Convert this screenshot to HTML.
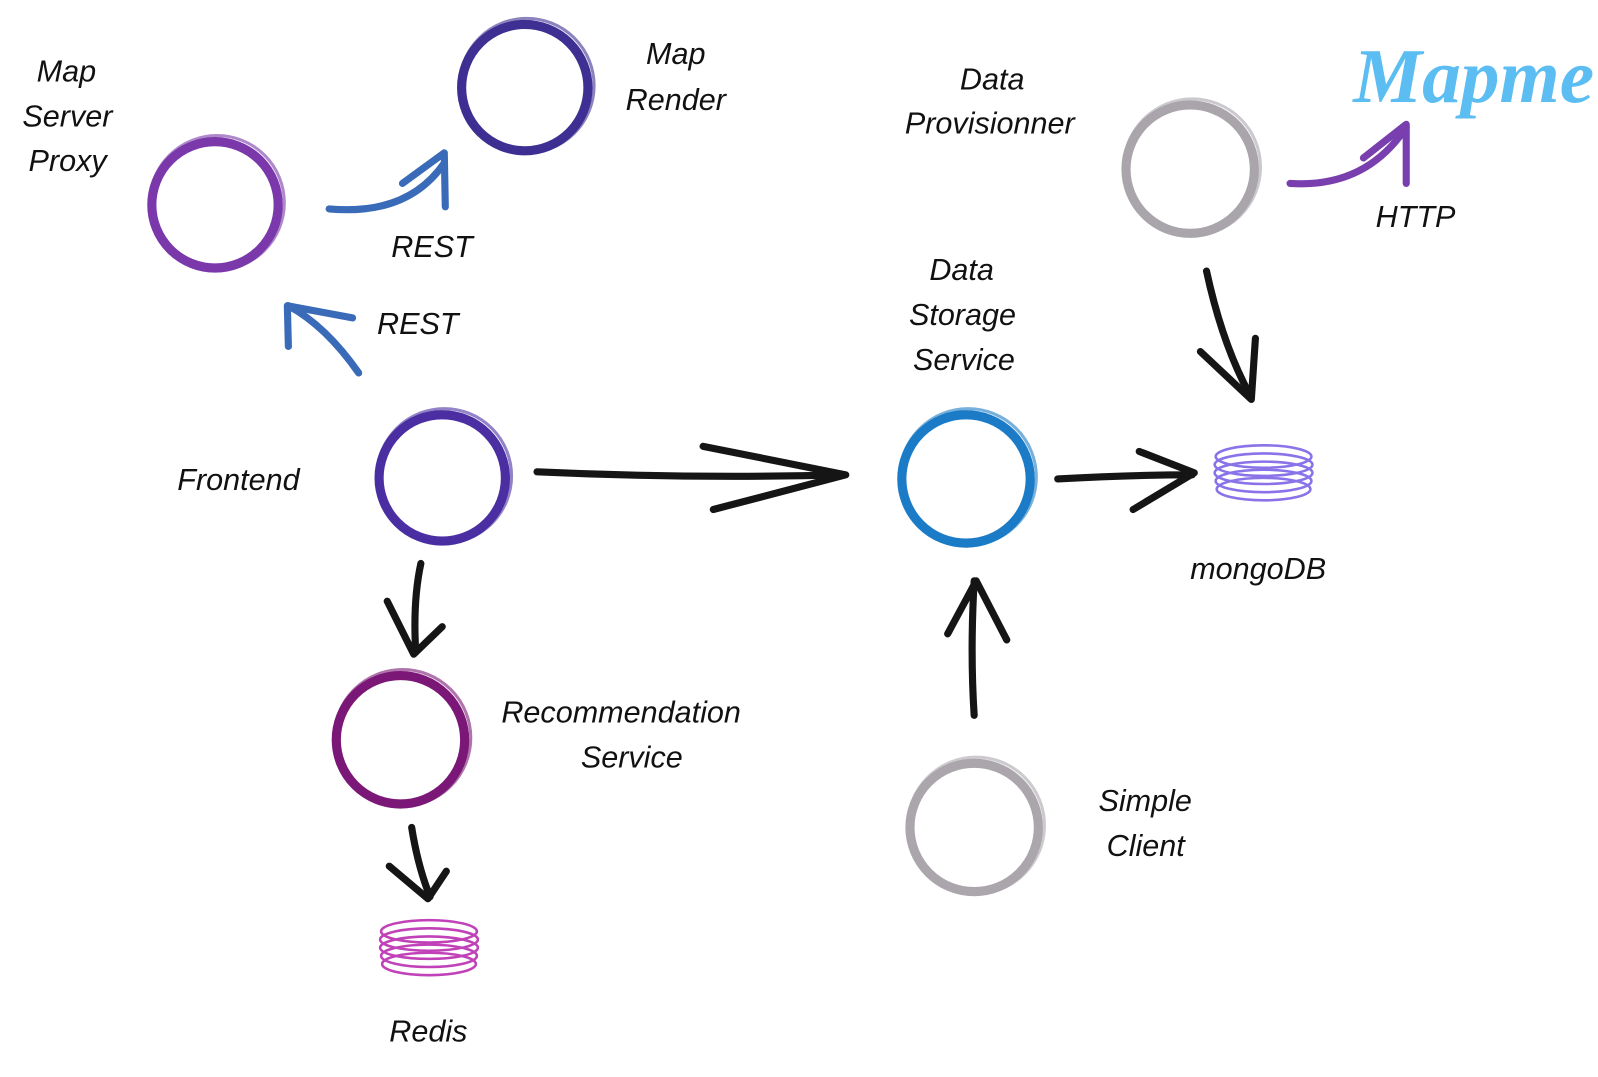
<!DOCTYPE html>
<html><head><meta charset="utf-8"><style>
html,body{margin:0;padding:0;background:#fff;width:1598px;height:1077px;overflow:hidden}
svg text{font-family:"Liberation Sans",sans-serif;font-style:italic;font-size:30px;fill:#111}
</style></head><body>
<svg width="1598" height="1077" viewBox="0 0 1598 1077" xmlns="http://www.w3.org/2000/svg">
<g transform="scale(1.019)">
<g fill="none" stroke-width="9" stroke-linecap="round" stroke-linejoin="round">
<circle cx="211" cy="201" r="62" stroke="#7a38aa"/>
<circle cx="213" cy="199" r="66" stroke="#7a38aa" stroke-width="3" opacity=".6"/>
<circle cx="515" cy="86" r="62" stroke="#3e2f92"/>
<circle cx="517" cy="84" r="66" stroke="#3e2f92" stroke-width="3" opacity=".6"/>
<circle cx="1168" cy="166" r="63" stroke="#a9a5ab"/>
<circle cx="1170" cy="164" r="67" stroke="#a9a5ab" stroke-width="3" opacity=".6"/>
<circle cx="434" cy="469" r="62" stroke="#4a2ea2"/>
<circle cx="436" cy="467" r="66" stroke="#4a2ea2" stroke-width="3" opacity=".6"/>
<circle cx="948" cy="470" r="63" stroke="#1b7bc6"/>
<circle cx="950" cy="468" r="67" stroke="#1b7bc6" stroke-width="3" opacity=".6"/>
<circle cx="393" cy="726" r="63" stroke="#7b1877"/>
<circle cx="395" cy="724" r="67" stroke="#7b1877" stroke-width="3" opacity=".6"/>
<circle cx="956" cy="812" r="63" stroke="#aaa6ac"/>
<circle cx="958" cy="810" r="67" stroke="#aaa6ac" stroke-width="3" opacity=".6"/>
</g>
<g fill="none" stroke="#8a72e8" stroke-width="2.5">
<ellipse cx="1240" cy="448" rx="47" ry="11"/><ellipse cx="1240" cy="456" rx="48" ry="11"/>
<ellipse cx="1240" cy="464" rx="48" ry="11"/><ellipse cx="1240" cy="472" rx="47" ry="11"/>
<ellipse cx="1240" cy="480" rx="46" ry="11"/>
</g>
<g fill="none" stroke="#c142b8" stroke-width="2.5">
<ellipse cx="421" cy="914" rx="47" ry="11"/><ellipse cx="421" cy="922" rx="48" ry="11"/>
<ellipse cx="421" cy="930" rx="48" ry="11"/><ellipse cx="421" cy="938" rx="47" ry="11"/>
<ellipse cx="421" cy="946" rx="46" ry="11"/>
</g>
<g fill="none" stroke-width="7" stroke-linecap="round" stroke-linejoin="round">
<path d="M323 205 Q400 212 436 160" stroke="#3a6bb8"/>
<path d="M395 180 L436 150 L437 203" stroke="#3a6bb8"/>
<path d="M352 366 Q320 320 283 300" stroke="#3a6bb8"/>
<path d="M283 340 L282 300 L346 312" stroke="#3a6bb8"/>
<path d="M1266 180 Q1340 185 1380 125" stroke="#7a3fae"/>
<path d="M1338 155 L1380 122 L1380 180" stroke="#7a3fae"/>
<path d="M527 463 Q680 470 828 466" stroke="#151515"/>
<path d="M690 438 L830 466 L700 500" stroke="#151515"/>
<path d="M1038 470 Q1110 466 1170 466" stroke="#151515"/>
<path d="M1118 443 L1172 464 L1112 500" stroke="#151515"/>
<path d="M1184 266 Q1200 340 1228 390" stroke="#151515"/>
<path d="M1178 345 L1228 392 L1232 332" stroke="#151515"/>
<path d="M413 553 Q405 590 408 640" stroke="#151515"/>
<path d="M380 590 L406 642 L434 615" stroke="#151515"/>
<path d="M404 812 Q410 850 422 880" stroke="#151515"/>
<path d="M382 850 L420 882 L438 855" stroke="#151515"/>
<path d="M956 702 Q952 640 956 570" stroke="#151515"/>
<path d="M930 622 L958 570 L988 628" stroke="#151515"/>
</g>
<text x="36" y="80">Map</text>
<text x="22" y="124">Server</text>
<text x="28" y="168">Proxy</text>
<text x="634" y="63">Map</text>
<text x="614" y="108">Render</text>
<text x="384" y="252">REST</text>
<text x="370" y="328">REST</text>
<text x="942" y="88">Data</text>
<text x="888" y="131">Provisionner</text>
<text x="1350" y="223">HTTP</text>
<text x="912" y="275">Data</text>
<text x="892" y="319">Storage</text>
<text x="896" y="363">Service</text>
<text x="174" y="481">Frontend</text>
<text x="1168" y="568">mongoDB</text>
<text x="492" y="709">Recommendation</text>
<text x="570" y="753">Service</text>
<text x="1078" y="796">Simple</text>
<text x="1086" y="840">Client</text>
<text x="382" y="1022">Redis</text>
<text x="1328" y="100" style="font-family:'Liberation Serif',serif;font-style:italic;font-weight:bold;font-size:76px;fill:#5bbdf2">Mapme</text>
</g>
</svg>
</body></html>
